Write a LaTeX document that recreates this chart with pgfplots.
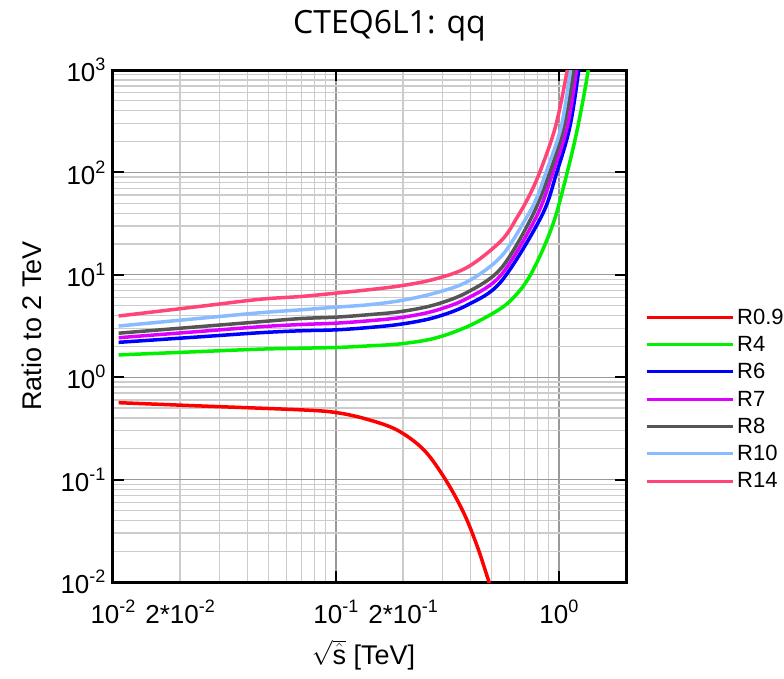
\documentclass[border=0pt]{standalone}
\usepackage{fontspec}
\setmainfont{Liberation Sans}
\newfontfamily\titlefont{Open Sans}
\usepackage{pgfplots}
\pgfplotsset{compat=1.18}

\definecolor{cR09}{HTML}{FF0000}
\definecolor{cR4}{HTML}{00F000}
\definecolor{cR6}{HTML}{0000FF}
\definecolor{cR7}{HTML}{DD00FF}
\definecolor{cR8}{HTML}{555555}
\definecolor{cR10}{HTML}{88BBFF}
\definecolor{cR14}{HTML}{FF4478}
\newcommand\sups[1]{\raisebox{0.42em}{\fontsize{18}{18}\selectfont #1}}

\begin{document}
\begin{tikzpicture}
\useasboundingbox (-113pt,-96pt) rectangle (671pt,582pt);
\begin{axis}[
    scale only axis,
    width=513pt, height=512pt,
    xmode=log, ymode=log,
    xmin=0.01, xmax=2,
    ymin=0.01, ymax=1000,
    axis line style={line width=3pt},
    grid=both,
    major grid style={draw=black!40, line width=1.3pt},
    minor grid style={draw=black!20, line width=1.3pt},
    major tick length=11pt,
    minor tick length=0pt,
    every tick/.style={black, line width=2pt},
    xtick={0.01,0.1,1},
    xticklabels={10\sups{-2},10\sups{-1},10\sups{0}},
    extra x ticks={0.02,0.2},
    extra x tick labels={2*10\sups{-2},2*10\sups{-1}},
    extra x tick style={major tick length=0pt, grid=none},
    ytick={0.01,0.1,1,10,100,1000},
    yticklabels={10\sups{-2},10\sups{-1},10\sups{0},10\sups{1},10\sups{2},10\sups{3}},
    tick label style={font=\fontsize{26}{26}\selectfont},
    xticklabel style={anchor=base, yshift=-41pt},
    yticklabel style={anchor=east, xshift=-4pt},
    title={CTEQ6L1: qq},
    title style={font=\titlefont\fontsize{32}{32}\selectfont, at={(0.5,1)}, anchor=base, xshift=20pt, yshift=31pt},
    xlabel={$\sqrt{\hat{\mbox{s}}}$ [TeV]},
    xlabel style={font=\fontsize{27}{27}\selectfont, at={(axis description cs:0.5,-0.161)}, anchor=base, xshift=-6pt},
    ylabel={Ratio to 2 TeV},
    ylabel style={font=\fontsize{27}{27}\selectfont, at={(axis description cs:-0.158,0.5)}, anchor=center},
    legend cell align=left,
    legend style={at={(1,0.357)}, anchor=west, xshift=16pt, draw=none, fill=none,
        font=\fontsize{22}{22}\selectfont, row sep=4.5pt,
        nodes={inner sep=3pt},
        /tikz/every even column/.append style={column sep=4pt}},
    legend image code/.code={\draw[#1, line width=3pt] (0pt,0pt) -- (86pt,0pt);},
]
\addplot[cR09, line width=3.5pt, smooth, tension=0.55] coordinates {
  (0.0106,0.564) (0.0246,0.524) (0.0697,0.48) (0.1,0.452) (0.137,0.39)
  (0.188,0.305) (0.248,0.195) (0.31,0.1) (0.375,0.0469) (0.431,0.0221)
  (0.486,0.01) (0.52,0.0065)
};
\addplot[cR4, line width=3.5pt, smooth, tension=0.55] coordinates {
  (0.0106,1.65) (0.0246,1.78) (0.0457,1.88) (0.0697,1.92) (0.1,1.95)
  (0.139,2.02) (0.196,2.12) (0.277,2.40) (0.39,3.13) (0.551,4.72)
  (0.66,6.8) (0.75,10.2) (0.86,19) (0.965,37) (1.09,100) (1.216,279)
  (1.354,1000) (1.39,2000)
};
\addplot[cR6, line width=3.5pt, smooth, tension=0.55] coordinates {
  (0.0106,2.19) (0.0246,2.48) (0.0457,2.72) (0.0697,2.84) (0.1,2.90)
  (0.139,3.05) (0.196,3.30) (0.277,3.83) (0.39,5.09) (0.551,8.61)
  (0.834,37) (0.978,100) (1.12,279) (1.228,1000) (1.27,2000)
};
\addplot[cR7, line width=3.5pt, smooth, tension=0.55] coordinates {
  (0.0106,2.43) (0.0246,2.80) (0.0457,3.11) (0.0697,3.27) (0.1,3.37)
  (0.139,3.55) (0.196,3.83) (0.277,4.45) (0.39,5.92) (0.551,10)
  (0.793,37) (0.939,100) (1.09,279) (1.2,1000) (1.24,2000)
};
\addplot[cR8, line width=3.5pt, smooth, tension=0.55] coordinates {
  (0.0106,2.69) (0.0246,3.12) (0.0457,3.48) (0.0697,3.74) (0.1,3.86)
  (0.139,4.07) (0.196,4.38) (0.277,5.09) (0.39,6.78) (0.551,11.6)
  (0.757,37) (0.91,100) (1.052,279) (1.167,1000) (1.21,2000)
};
\addplot[cR10, line width=3.5pt, smooth, tension=0.55] coordinates {
  (0.0106,3.16) (0.0246,3.76) (0.0457,4.26) (0.0697,4.55) (0.1,4.83)
  (0.139,5.09) (0.196,5.61) (0.277,6.62) (0.39,8.61) (0.551,15.1)
  (0.72,37) (0.8,58) (0.876,100) (1.024,279) (1.127,1000) (1.17,2000)
};
\addplot[cR14, line width=3.5pt, smooth, tension=0.55] coordinates {
  (0.0106,3.96) (0.0246,4.92) (0.0457,5.77) (0.0697,6.14) (0.1,6.62)
  (0.139,7.13) (0.196,7.82) (0.277,9.07) (0.39,11.9) (0.551,21.5)
  (0.65,36.5) (0.73,57) (0.82,100) (0.965,279) (1.09,1000) (1.13,2000)
};
\legend{R0.9,R4,R6,R7,R8,R10,R14}
\end{axis}
\end{tikzpicture}
\end{document}
